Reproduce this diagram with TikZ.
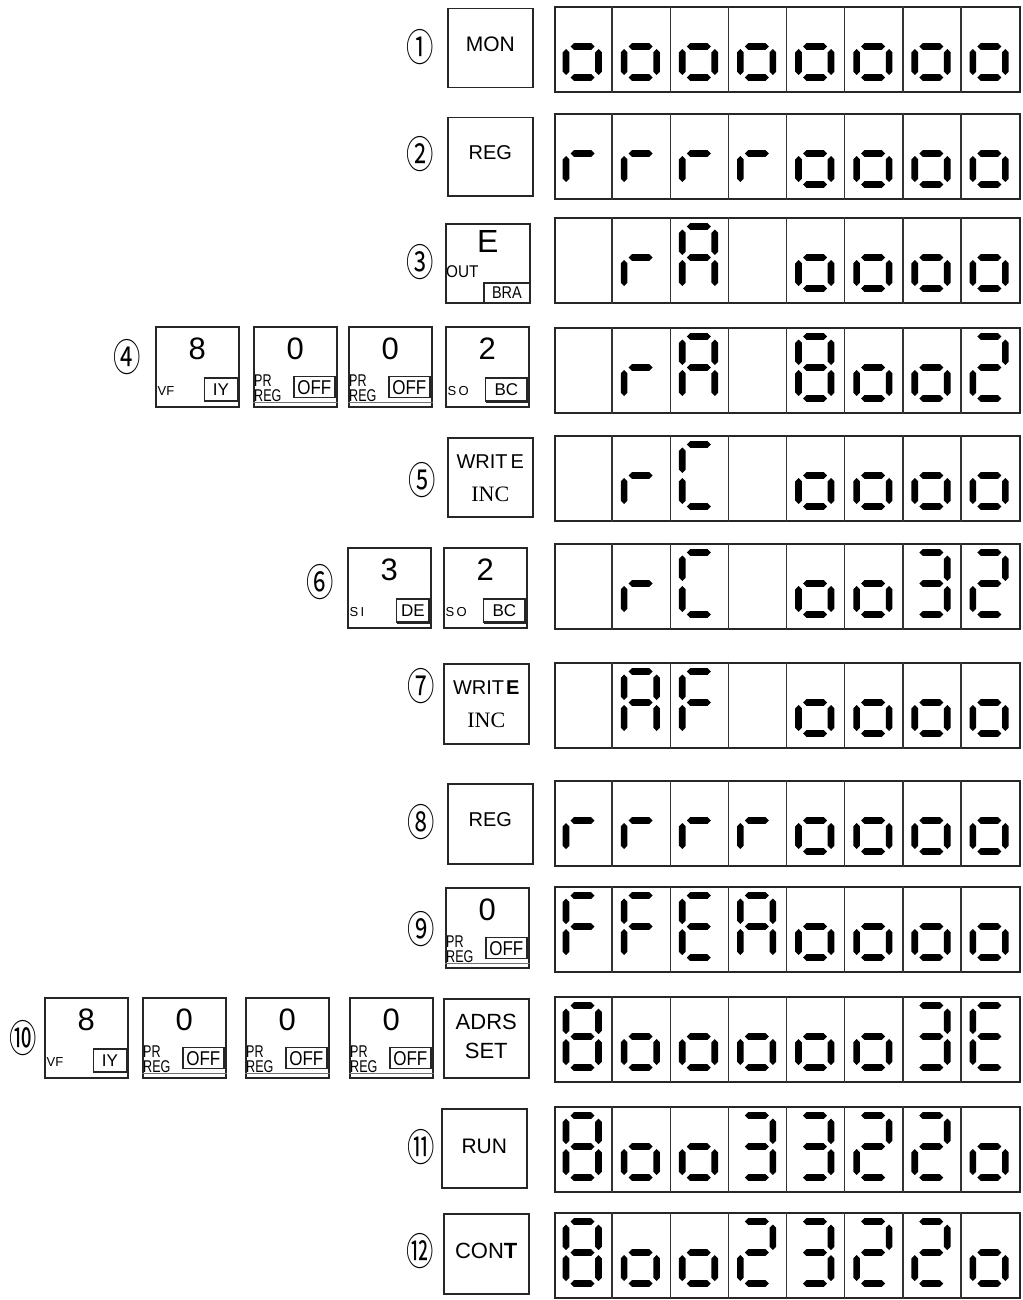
\documentclass[tikz,border=0pt]{standalone}
\usepackage{fontspec}
\setmainfont{Liberation Sans}
\newfontfamily\myserif{Liberation Serif}
\newfontfamily\mycjk{Noto Sans CJK JP}
\newcommand\myfs[1]{\fontsize{#1}{#1}\selectfont}
\newcommand\mynarrow[2][0.8]{\scalebox{#1}[1]{#2}}
% pointed segment bars, relative to the cell's top left corner
\newcommand\myhbar[3]{\fill[segfill] (#1,#3) -- ++(3.3,-3.3) -- (#2-3.3,#3-3.3) -- (#2,#3) -- (#2-3.3,#3+3.3) -- (#1+3.3,#3+3.3) -- cycle;}
\newcommand\myvbar[3]{\fill[segfill] (#1,#2) -- ++(3.3,3.3) -- (#1+3.3,#3-3.3) -- (#1,#3) -- (#1-3.3,#3-3.3) -- (#1-3.3,#2+3.3) -- cycle;}
\newcommand\myseg[1]{\csname mysg#1\endcsname}
\expandafter\newcommand\csname mysga\endcsname{\myhbar{16.5}{40.5}{9.5}}
\expandafter\newcommand\csname mysgb\endcsname{\myvbar{44.5}{12.5}{38}}
\expandafter\newcommand\csname mysgc\endcsname{\myvbar{44.5}{43}{69}}
\expandafter\newcommand\csname mysgd\endcsname{\myhbar{16.5}{40.5}{71.5}}
\expandafter\newcommand\csname mysge\endcsname{\myvbar{12}{43}{69}}
\expandafter\newcommand\csname mysgf\endcsname{\myvbar{12}{12.5}{38}}
\expandafter\newcommand\csname mysgg\endcsname{\myhbar{16.5}{40.5}{40.5}}
\newcommand\mysegs[1]{\foreach \q in {#1}{\myseg{\q}}}
\expandafter\newcommand\csname mychx\endcsname{}
\expandafter\newcommand\csname mycho\endcsname{\mysegs{c,d,e,g}}
\expandafter\newcommand\csname mychr\endcsname{\mysegs{e,g}}
\expandafter\newcommand\csname mychA\endcsname{\mysegs{a,b,c,e,f,g}}
\expandafter\newcommand\csname mychC\endcsname{\mysegs{a,d,e,f}}
\expandafter\newcommand\csname mychF\endcsname{\mysegs{a,e,f,g}}
\expandafter\newcommand\csname mychE\endcsname{\mysegs{a,d,e,f,g}}
\expandafter\newcommand\csname mych2\endcsname{\mysegs{a,b,d,e,g}}
\expandafter\newcommand\csname mych3\endcsname{\mysegs{a,b,c,d,g}}
\expandafter\newcommand\csname mych8\endcsname{\mysegs{a,b,c,d,e,f,g}}
% one display row: name, top y, eight characters
\newcommand\myrow[3]{%
  \node[disp] (#1) at (554,#2) {};
  \foreach \k in {1,...,7}{\draw[sepl] ([xshift=\k*58.125pt]#1.north west) -- ([xshift=\k*58.125pt]#1.south west);}
  \foreach \c [count=\i from 0] in {#3}{\begin{scope}[shift={(554+\i*58.125,#2)}]\csname mych\c\endcsname\end{scope}}%
}
% key with digit, small left label and boxed label
\newcommand\myhexkey[8]{%
  \node[keybox] (#1) at (#2,#3) {};
  \node[bigdig] (#1-d) at ([yshift=-23pt]#1.north) {#4};
  \node[smlab] (#1-l) at ([xshift=2.5pt,yshift=16pt]#1.south west) {#5};
  \node[labbox, minimum width=#7pt] (#1-b) at ([xshift=-1.5pt,yshift=6pt]#1.south east) {#6};
  \ifnum#8=1
    \draw[line width=2.4pt, black!85] ([xshift=-0.6pt,yshift=-1pt]#1-b.north east) -- ([xshift=-0.6pt,yshift=-0.6pt]#1-b.south east) -- ([xshift=1pt,yshift=-0.6pt]#1-b.south west);
  \fi
}
% key with digit, PR REG and OFF
\newcommand\myprkey[4]{%
  \node[keybox] (#1) at (#2,#3) {};
  \node[bigdig] (#1-d) at ([yshift=-23pt]#1.north) {#4};
  \node[prlab] (#1-p) at ([xshift=1pt,yshift=-48.5pt]#1.north west) {\mynarrow[0.74]{PR}};
  \node[prlab] (#1-r) at ([xshift=1pt,yshift=-63.5pt]#1.north west) {\mynarrow[0.74]{REG}};
  \node[offbox] (#1-o) at ([xshift=-2pt,yshift=-50pt]#1.north east) {\mynarrow[0.85]{OFF}};
  \draw[thinl] ([yshift=5pt]#1.south west) -- ([yshift=5pt]#1.south east);
}
\tikzset{
  segfill/.style={black},
  disp/.style={draw=black!85, line width=1.7pt, minimum width=465pt, minimum height=85pt, anchor=north west, inner sep=0pt},
  sepl/.style={draw=black!80, line width=1.5pt},
  keybox/.style={draw=black!85, line width=1.5pt, anchor=north west, inner sep=0pt, minimum width=83pt, minimum height=80pt},
  bigkey/.style={keybox, minimum width=85pt, minimum height=79pt},
  bigdig/.style={font=\myfs{31}, inner sep=0pt},
  smlab/.style={font=\myfs{13}, inner sep=0pt, anchor=west},
  labbox/.style={draw=black!85, line width=1.3pt, anchor=south east, minimum height=23pt, inner sep=0pt, font=\myfs{17}},
  prlab/.style={font=\myfs{17}, inner sep=0pt, anchor=north west},
  offbox/.style={draw=black!85, line width=1.3pt, anchor=north east, minimum width=41pt, minimum height=21pt, inner sep=0pt, font=\myfs{20}},
  thinl/.style={draw=black!55, line width=1.2pt},
  keytxt/.style={font=\myfs{21}, inner sep=0pt},
  circnum/.style={font=\mycjk\myfs{38}, inner sep=0pt},
}
\begin{document}
\begin{tikzpicture}[x=1pt,y=-1pt]
\useasboundingbox (0,0) rectangle (1022,1300);
\fill[white] (0,0) rectangle (1022,1300);
% ---------- circled step numbers
\node[circnum] (n1) at (420,47) {\mynarrow[0.72]{①}};
\node[circnum] (n2) at (420,154) {\mynarrow[0.72]{②}};
\node[circnum] (n3) at (420,262) {\mynarrow[0.72]{③}};
\node[circnum] (n4) at (127,357) {\mynarrow[0.72]{④}};
\node[circnum] (n5) at (422,480) {\mynarrow[0.72]{⑤}};
\node[circnum] (n6) at (320,582) {\mynarrow[0.72]{⑥}};
\node[circnum] (n7) at (421,686) {\mynarrow[0.72]{⑦}};
\node[circnum] (n8) at (421,822) {\mynarrow[0.72]{⑧}};
\node[circnum] (n9) at (421,929) {\mynarrow[0.72]{⑨}};
\node[circnum] (n10) at (23,1038) {\mynarrow[0.72]{⑩}};
\node[circnum] (n11) at (421,1147) {\mynarrow[0.72]{⑪}};
\node[circnum] (n12) at (420,1251) {\mynarrow[0.72]{⑫}};
% ---------- displays
\myrow{d1}{6}{o,o,o,o,o,o,o,o}
\myrow{d2}{113}{r,r,r,r,o,o,o,o}
\myrow{d3}{217}{x,r,A,x,o,o,o,o}
\myrow{d4}{327}{x,r,A,x,8,o,o,2}
\myrow{d5}{435}{x,r,C,x,o,o,o,o}
\myrow{d6}{543}{x,r,C,x,o,o,3,2}
\myrow{d7}{662}{x,A,F,x,o,o,o,o}
\myrow{d8}{780}{r,r,r,r,o,o,o,o}
\myrow{d9}{886}{F,F,E,A,o,o,o,o}
\myrow{d10}{996}{8,o,o,o,o,o,3,E}
\myrow{d11}{1106}{8,o,o,3,3,2,2,o}
\myrow{d12}{1212}{8,o,o,2,3,2,2,o}
% ---------- row 1
\node[bigkey] (k1) at (447,8) {};
\node[keytxt] (k1-t) at ([yshift=4pt]k1.center) {MON};
% ---------- row 2
\node[bigkey, minimum height=78pt] (k2) at (447,117) {};
\node[keytxt, font=\myfs{20}] (k2-t) at ([yshift=4pt]k2.center) {REG};
% ---------- row 3
\node[bigkey, minimum width=84pt] (k3) at (445,223) {};
\node[font=\myfs{32}, inner sep=0pt] (k3-e) at ([yshift=-18.5pt]k3.north) {E};
\node[font=\myfs{17}, inner sep=0pt, anchor=west] (k3-o) at ([xshift=1pt,yshift=-48.5pt]k3.north west) {\mynarrow[0.9]{OUT}};
\node[draw=black!85, line width=1.3pt, anchor=south east, minimum width=46pt, minimum height=20pt, inner sep=0pt, font=\myfs{17}] (k3-b) at (k3.south east) {\mynarrow[0.85]{BRA}};
% ---------- row 4
\myhexkey{k4a}{155}{326}{8}{VF}{IY}{33}{0}
\myprkey{k4b}{253}{326}{0}
\myprkey{k4c}{348}{326}{0}
\myhexkey{k4d}{445}{326}{2}{S\,O}{BC}{42}{1}
% ---------- row 5
\node[bigkey] (k5) at (447,437) {};
\node[keytxt, font=\myfs{20}] (k5-w) at ([yshift=16pt]k5.center) {WRIT\hspace{3pt}E};
\node[keytxt, font=\myserif\myfs{22}] (k5-i) at ([yshift=-17pt]k5.center) {INC};
% ---------- row 6
\myhexkey{k6a}{347}{547}{3}{S\,I}{DE}{33}{1}
\myhexkey{k6b}{443}{547}{2}{S\,O}{BC}{42}{1}
% ---------- row 7
\node[bigkey, minimum height=80pt] (k7) at (443,663) {};
\node[keytxt, font=\myfs{20}] (k7-w) at ([yshift=16pt]k7.center) {WRIT\hspace{2pt}\textbf{E}};
\node[keytxt, font=\myserif\myfs{22}] (k7-i) at ([yshift=-17pt]k7.center) {INC};
% ---------- row 8
\node[bigkey, minimum height=80pt] (k8) at (447,783) {};
\node[keytxt, font=\myfs{20}] (k8-t) at ([yshift=4pt]k8.center) {REG};
% ---------- row 9
\myprkey{k9}{445}{887}{0}
% ---------- row 10
\myhexkey{k10a}{44}{997}{8}{VF}{IY}{33}{0}
\myprkey{k10b}{142}{997}{0}
\myprkey{k10c}{245}{997}{0}
\myprkey{k10d}{349}{997}{0}
\node[bigkey] (k10e) at (443,998) {};
\node[keytxt, font=\myfs{22}] (k10e-a) at ([yshift=16pt]k10e.center) {ADRS};
\node[keytxt, font=\myfs{22}] (k10e-s) at ([yshift=-12.5pt]k10e.center) {SET};
% ---------- row 11
\node[bigkey] (k11) at (441,1108) {};
\node[keytxt] (k11-t) at ([yshift=2pt]k11.center) {RUN};
% ---------- row 12
\node[bigkey, minimum height=80pt] (k12) at (443,1213) {};
\node[keytxt, font=\myfs{22}] (k12-t) at ([yshift=3pt]k12.center) {CON\textbf{T}};
\end{tikzpicture}
\end{document}
